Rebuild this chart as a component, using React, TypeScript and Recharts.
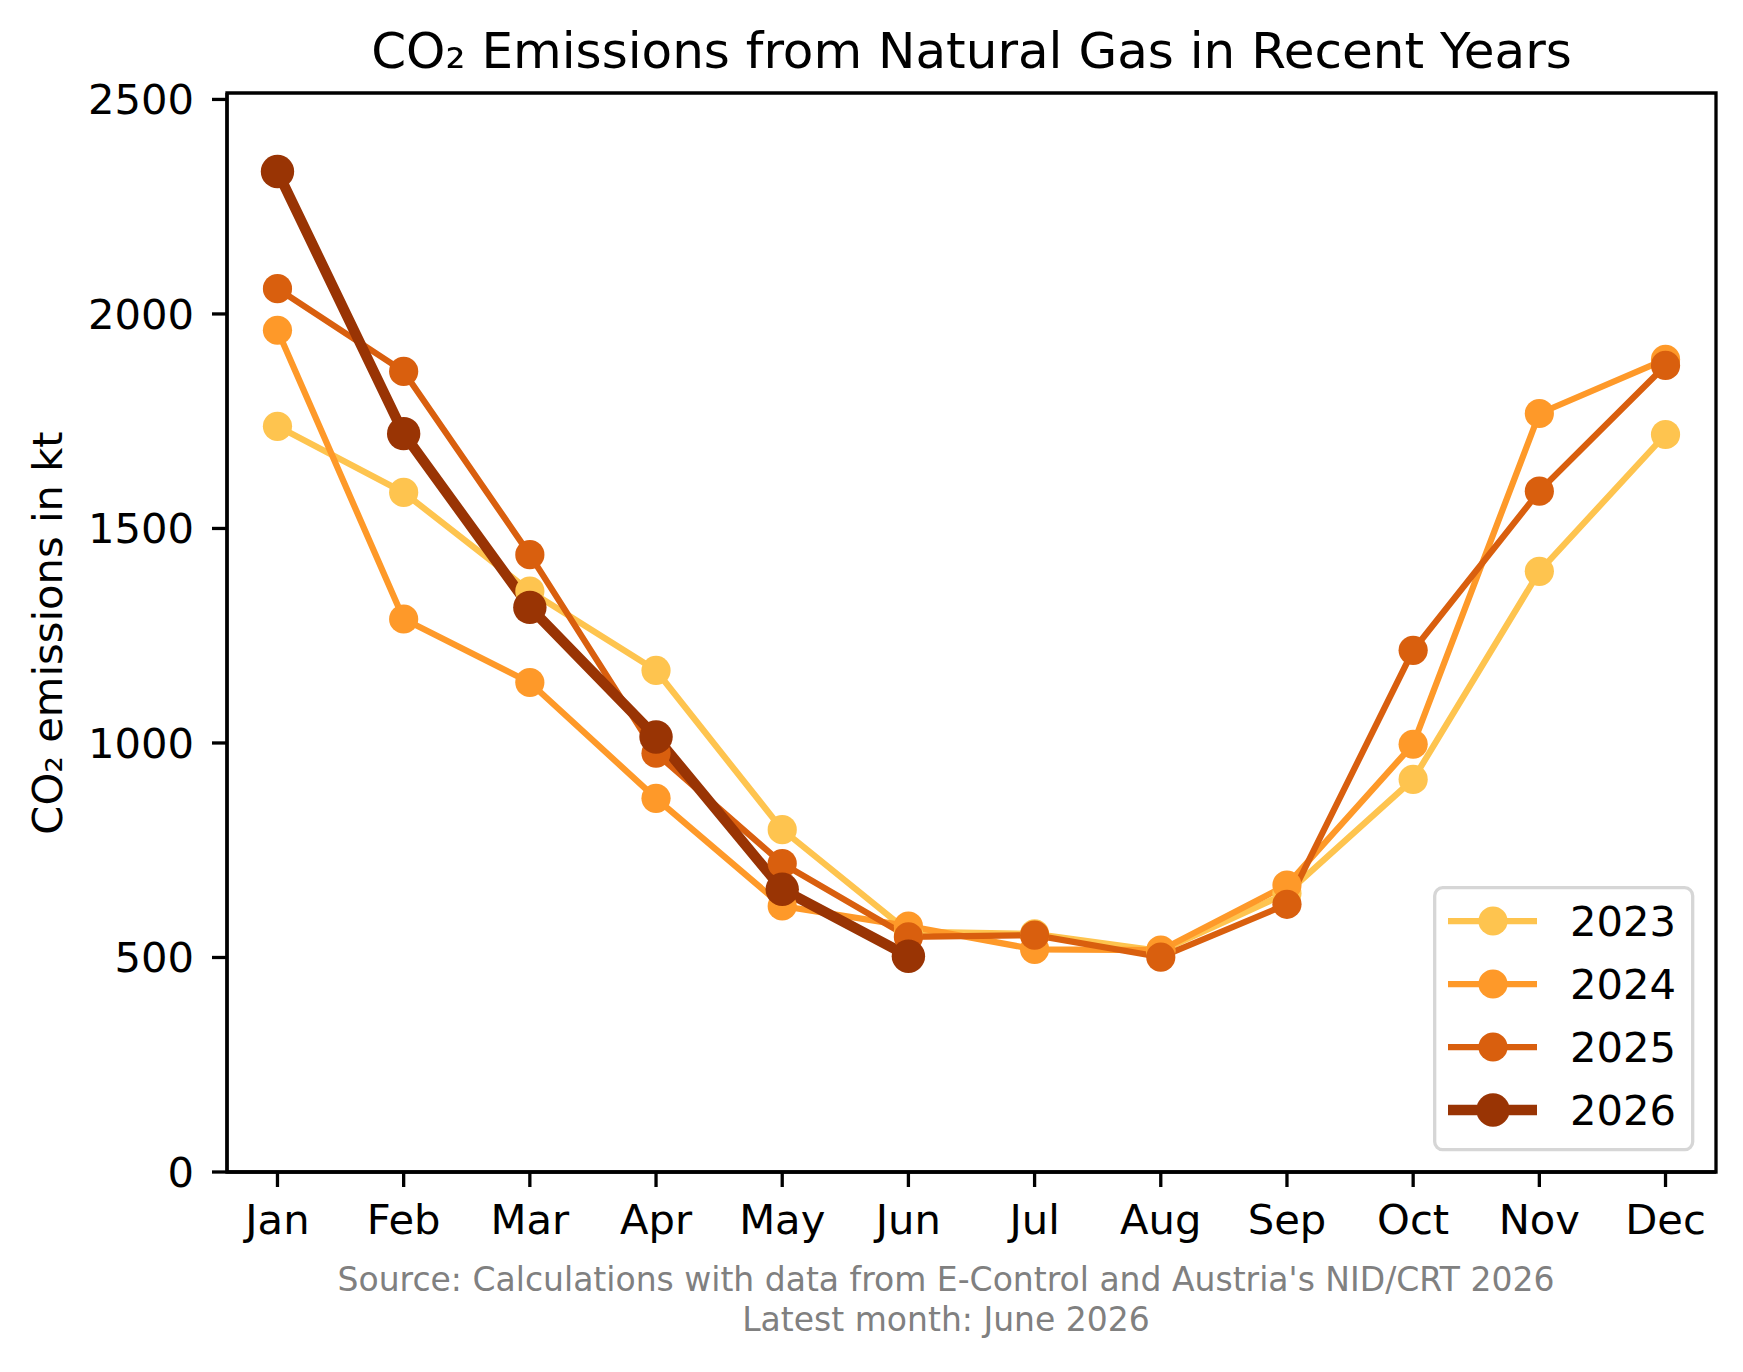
import React from 'react';
import { LineChart, Line, XAxis, YAxis, Legend, ReferenceArea } from 'recharts';

// monthly CO2 emissions from natural gas (kt)
const months = ['Jan', 'Feb', 'Mar', 'Apr', 'May', 'Jun', 'Jul', 'Aug', 'Sep', 'Oct', 'Nov', 'Dec'];
const years = ['2023', '2024', '2025', '2026'];
const v2023 = [1738, 1584, 1354, 1169, 798, 560, 555, 515, 650, 915, 1400, 1719];
const v2024 = [1962, 1289, 1141, 871, 620, 573, 519, 517, 669, 997, 1768, 1894];
const v2025 = [2059, 1866, 1439, 976, 719, 548, 552, 501, 624, 1216, 1587, 1880];
const v2026 = [2332, 1721, 1316, 1014, 659, 503, null, null, null, null, null, null];
const yTicks = [0, 500, 1000, 1500, 2000, 2500];

const data = months.map((m, i) => ({
  m: i,
  y2023: v2023[i],
  y2024: v2024[i],
  y2025: v2025[i],
  y2026: v2026[i],
}));

// YlOrBr palette, latest year drawn thicker
const COLORS: Record<string, string> = {
  '2023': '#fec44f',
  '2024': '#fe9929',
  '2025': '#d95f0e',
  '2026': '#993404',
};
const WIDTH: Record<string, number> = { '2023': 6.25, '2024': 6.25, '2025': 6.25, '2026': 10.4 };
const RADIUS: Record<string, number> = { '2023': 14.6, '2024': 14.6, '2025': 14.6, '2026': 16.7 };

const FONT = 'DejaVu Sans';

function LegendBox() {
  return (
    <svg width={265} height={270} style={{ display: 'block' }}>
      <rect x={1.7} y={1.7} width={258} height={262} rx={8} ry={8} fill="#fff" fillOpacity={0.8} stroke="#d6d6d6" strokeWidth={3.3} />
      {years.map((yr, i) => {
        const cy = 35 + i * 63;
        return (
          <g key={yr}>
            <line x1={15} x2={104} y1={cy} y2={cy} stroke={COLORS[yr]} strokeWidth={WIDTH[yr]} />
            <circle cx={60} cy={cy} r={RADIUS[yr]} fill={COLORS[yr]} />
            <text x={137} y={cy + 15} fontSize={41.7} fontFamily={FONT} fill="#000">{yr}</text>
          </g>
        );
      })}
    </svg>
  );
}

export default function App() {
  return (
    <div style={{ position: 'relative', width: 1743, height: 1372, background: '#fff' }}>
      <style>{`body{margin:0}`}</style>
      <LineChart
        width={1743}
        height={1372}
        data={data}
        margin={{ top: 93, right: 27, bottom: 140, left: 127 }}
      >
        <XAxis
          dataKey="m"
          type="number"
          domain={[-0.4, 11.4]}
          ticks={months.map((_, i) => i)}
          interval={0}
          tickFormatter={(i: number) => months[i]}
          height={60}
          tickSize={15}
          tickMargin={17}
          axisLine={{ stroke: '#000', strokeWidth: 3.3 }}
          tickLine={{ stroke: '#000', strokeWidth: 3.3 }}
          tick={{ fill: '#000', fontSize: 41.7, fontFamily: FONT }}
        />
        <YAxis
          type="number"
          domain={[0, 2515]}
          ticks={yTicks}
          interval={0}
          width={100}
          tickSize={15}
          tickMargin={18}
          axisLine={{ stroke: '#000', strokeWidth: 3.3 }}
          tickLine={{ stroke: '#000', strokeWidth: 3.3 }}
          tick={{ fill: '#000', fontSize: 41.7, fontFamily: FONT }}
        />
        <ReferenceArea x1={-0.4} x2={11.4} y1={0} y2={2515} fill="none" stroke="#000" strokeWidth={3.3} />
        {years.map((yr) => (
          <Line
            key={yr}
            type="linear"
            dataKey={`y${yr}`}
            name={yr}
            stroke={COLORS[yr]}
            strokeWidth={WIDTH[yr]}
            dot={{ r: RADIUS[yr], fill: COLORS[yr], stroke: 'none', strokeWidth: 0 }}
            activeDot={false}
            isAnimationActive={false}
          />
        ))}
        <Legend
          layout="vertical"
          align="center"
          verticalAlign="middle"
          content={() => <LegendBox />}
          wrapperStyle={{ position: 'absolute', left: 1433, top: 886, width: 265, height: 270 }}
        />
      </LineChart>
      <svg
        width={1743}
        height={1372}
        style={{ position: 'absolute', left: 0, top: 0, pointerEvents: 'none' }}
        fontFamily={FONT}
      >
        <text x={971.5} y={68} textAnchor="middle" fontSize={50} fill="#000">
          CO₂ Emissions from Natural Gas in Recent Years
        </text>
        <text transform="translate(62,633) rotate(-90)" textAnchor="middle" fontSize={41.7} fill="#000">
          CO₂ emissions in kt
        </text>
        <text x={946} y={1291} textAnchor="middle" fontSize={33} fill="#808080">
          Source: Calculations with data from E-Control and Austria's NID/CRT 2026
        </text>
        <text x={946} y={1331} textAnchor="middle" fontSize={33} fill="#808080">
          Latest month: June 2026
        </text>
      </svg>
    </div>
  );
}
